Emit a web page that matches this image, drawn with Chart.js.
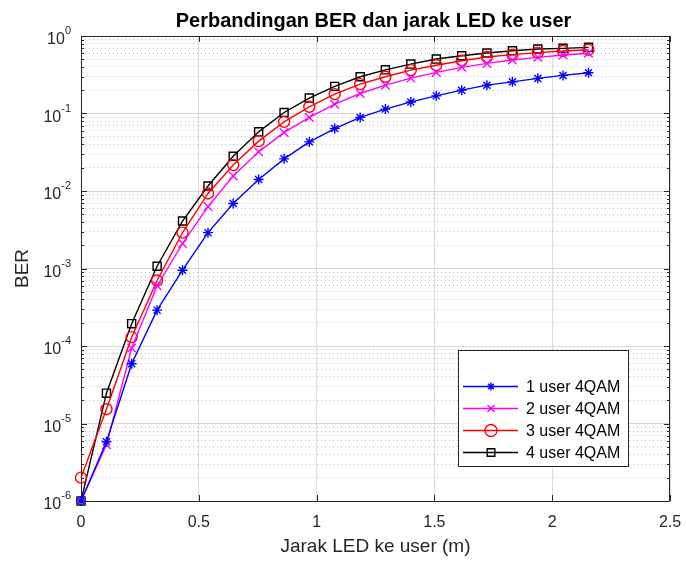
<!DOCTYPE html>
<html>
<head>
<meta charset="utf-8">
<title>Perbandingan BER dan jarak LED ke user</title>
<script src="https://cdn.jsdelivr.net/npm/chart.js@4.4.0/dist/chart.umd.min.js"></script>
<style>
    html, body { margin: 0; padding: 0; background: #ffffff; }
    #wrap { width: 686px; height: 562px; }
</style>
</head>
<body>
<div id="wrap"><canvas id="berChart" width="686" height="562"></canvas></div>
<script>
// Jarak LED ke user (m)
const jarak = [0, 0.108, 0.215, 0.323, 0.431, 0.539, 0.646, 0.754, 0.862, 0.969, 1.077,
               1.185, 1.292, 1.400, 1.508, 1.616, 1.723, 1.831, 1.939, 2.046, 2.154];

// BER per skenario
const ber1user = [1e-6, 5.8e-6, 5.9e-5, 2.9e-4, 9.5e-4, 2.9e-3, 6.9e-3, 1.41e-2, 2.6e-2, 4.3e-2, 6.4e-2,
                  8.9e-2, 0.114, 0.141, 0.169, 0.200, 0.232, 0.256, 0.284, 0.310, 0.335];
const ber2user = [1e-6, 5.3e-6, 9.4e-5, 6.0e-4, 2.1e-3, 6.3e-3, 1.56e-2, 3.2e-2, 5.7e-2, 8.9e-2, 0.132,
                  0.181, 0.232, 0.286, 0.339, 0.394, 0.443, 0.490, 0.530, 0.568, 0.600];
const ber3user = [2.0e-6, 1.53e-5, 1.3e-4, 7.0e-4, 2.9e-3, 9.3e-3, 2.16e-2, 4.4e-2, 7.8e-2, 0.122, 0.178,
                  0.239, 0.298, 0.363, 0.420, 0.480, 0.535, 0.575, 0.610, 0.640, 0.665];
const ber4user = [1e-6, 2.46e-5, 1.94e-4, 1.07e-3, 4.1e-3, 1.16e-2, 2.8e-2, 5.8e-2, 0.103, 0.158, 0.224,
                  0.298, 0.366, 0.434, 0.504, 0.556, 0.603, 0.645, 0.679, 0.693, 0.714];

const seriesLabels = ['1 user 4QAM', '2 user 4QAM', '3 user 4QAM', '4 user 4QAM'];

// Tick labels
const xTickValues = [0, 0.5, 1, 1.5, 2, 2.5];
const xTickLabels = ['0', '0.5', '1', '1.5', '2', '2.5'];
const yTickExponents = [0, -1, -2, -3, -4, -5, -6];

const FONT = '"Liberation Sans", Arial, Helvetica, sans-serif';
const AXIS_COLOR = '#262626';

// minor grid values for the log axis (1..9 x each decade)
const yGridValues = [];
for (let e = -6; e < 0; e++) {
    for (let m = 1; m <= 9; m++) yGridValues.push(m * Math.pow(10, e));
}
yGridValues.push(1);

function isDecade(v) {
    const l = Math.log10(v);
    return Math.abs(l - Math.round(l)) < 1e-9;
}

function toPoints(ys) {
    return jarak.map((x, i) => ({ x: x, y: ys[i] }));
}

const seriesStyles = [
    { color: '#0000ff', pointStyle: 'star', radius: 5, legendRadius: 4 },
    { color: '#ff00ff', pointStyle: 'crossRot', radius: 6, legendRadius: 5 },
    { color: '#ff0000', pointStyle: 'circle', radius: 5.5, legendRadius: 6 },
    { color: '#000000', pointStyle: 'rect', radius: 5.7, legendRadius: 5.4 }
];

const allSeries = [ber1user, ber2user, ber3user, ber4user];

const datasets = allSeries.map((ys, i) => ({
    label: seriesLabels[i],
    data: toPoints(ys),
    borderColor: seriesStyles[i].color,
    backgroundColor: 'rgba(0,0,0,0)',
    borderWidth: 1.4,
    pointStyle: seriesStyles[i].pointStyle,
    pointRadius: seriesStyles[i].radius,
    pointBorderWidth: 1.4,
    pointBorderColor: seriesStyles[i].color,
    pointBackgroundColor: 'rgba(0,0,0,0)',
    tension: 0,
    fill: false,
    clip: false
}));

// Box, tick marks, texts and legend in MATLAB look
const matlabAxes = {
    id: 'matlabAxes',
    beforeDatasetsDraw(chart) {
        const { ctx, chartArea: a, scales } = chart;
        ctx.save();
        ctx.strokeStyle = AXIS_COLOR;
        ctx.lineWidth = 1;
        ctx.strokeRect(a.left + 0.5, a.top + 0.5, a.right - a.left - 1, a.bottom - a.top);

        ctx.beginPath();
        xTickValues.forEach(v => {
            const px = Math.round(scales.x.getPixelForValue(v)) + 0.5;
            ctx.moveTo(px, a.bottom); ctx.lineTo(px, a.bottom - 6);
            ctx.moveTo(px, a.top); ctx.lineTo(px, a.top + 6);
        });
        yGridValues.forEach(v => {
            const py = Math.round(scales.y.getPixelForValue(v)) + 0.5;
            const len = isDecade(v) ? 6 : 3;
            ctx.moveTo(a.left, py); ctx.lineTo(a.left + len, py);
            ctx.moveTo(a.right, py); ctx.lineTo(a.right - len, py);
        });
        ctx.stroke();
        ctx.restore();
    },
    afterDraw(chart) {
        const { ctx, chartArea: a, scales } = chart;
        ctx.save();

        // title
        ctx.fillStyle = '#000000';
        ctx.font = 'bold 20px ' + FONT;
        ctx.textAlign = 'center';
        ctx.textBaseline = 'alphabetic';
        ctx.fillText('Perbandingan BER dan jarak LED ke user', (a.left + a.right) / 2 - 2, 27);

        // x tick labels
        ctx.fillStyle = AXIS_COLOR;
        ctx.font = '16px ' + FONT;
        xTickValues.forEach((v, i) => {
            ctx.fillText(xTickLabels[i], scales.x.getPixelForValue(v), a.bottom + 26);
        });

        // y tick labels 10^n
        yTickExponents.forEach(e => {
            const py = scales.y.getPixelForValue(Math.pow(10, e));
            const expText = String(e);
            ctx.font = '16px ' + FONT;
            const wBase = ctx.measureText('10').width;
            ctx.font = '11px ' + FONT;
            const wExp = ctx.measureText(expText).width;
            const right = a.left - 10;
            ctx.textAlign = 'left';
            ctx.font = '16px ' + FONT;
            ctx.fillText('10', right - wExp - wBase, py + 8);
            ctx.font = '11px ' + FONT;
            ctx.fillText(expText, right - wExp, py - 2);
        });

        // axis labels
        ctx.font = '19px ' + FONT;
        ctx.textAlign = 'center';
        ctx.fillText('Jarak LED ke user (m)', (a.left + a.right) / 2, 552);
        ctx.save();
        ctx.translate(23, (a.top + a.bottom) / 2);
        ctx.rotate(-Math.PI / 2);
        ctx.textBaseline = 'middle';
        ctx.fillText('BER', 0, 0);
        ctx.restore();

        // legend box
        const lx = 458, ly = 350, lw = 170, lh = 116;
        ctx.fillStyle = '#ffffff';
        ctx.fillRect(lx, ly, lw, lh);
        ctx.strokeStyle = '#262626';
        ctx.lineWidth = 1;
        ctx.strokeRect(lx + 0.5, ly + 0.5, lw, lh);
        const rowY = [386.5, 408.5, 430.5, 452.5];
        chart.data.datasets.forEach((ds, i) => {
            const y = rowY[i];
            ctx.strokeStyle = ds.borderColor;
            ctx.lineWidth = 1.4;
            ctx.beginPath();
            ctx.moveTo(463, y); ctx.lineTo(518, y);
            ctx.stroke();
            ctx.fillStyle = 'rgba(0,0,0,0)';
            Chart.helpers.drawPoint(ctx, {
                pointStyle: ds.pointStyle,
                radius: seriesStyles[i].legendRadius,
                rotation: 0,
                borderWidth: 1.4
            }, 491, y);
            ctx.fillStyle = '#000000';
            ctx.font = '16px ' + FONT;
            ctx.textAlign = 'left';
            ctx.textBaseline = 'middle';
            ctx.fillText(seriesLabels[i], 526, y + 1);
        });
        ctx.restore();
    }
};

const berCanvas = document.getElementById('berChart');
new Chart(berCanvas.getContext('2d'), {
    type: 'line',
    data: { datasets: datasets },
    options: {
        responsive: false,
        animation: false,
        devicePixelRatio: 1,
        layout: { padding: { left: 81, right: 16, top: 36, bottom: 61 } },
        plugins: {
            legend: { display: false },
            title: { display: false },
            tooltip: { enabled: false }
        },
        scales: {
            x: {
                type: 'linear',
                min: 0,
                max: 2.5,
                ticks: { display: false },
                afterBuildTicks: s => { s.ticks = xTickValues.map(v => ({ value: v })); },
                afterFit: s => { s.height = 0; },
                grid: { color: '#dcdcdc', lineWidth: 1, drawTicks: false },
                border: { display: false }
            },
            y: {
                type: 'logarithmic',
                min: 1e-6,
                max: 1,
                ticks: { display: false },
                afterBuildTicks: s => { s.ticks = yGridValues.map(v => ({ value: v })); },
                afterFit: s => { s.width = 0; },
                grid: {
                    drawTicks: false,
                    lineWidth: 1,
                    color: c => (c.tick && isDecade(c.tick.value)) ? '#d6d6d6' : '#bdbdbd'
                },
                border: {
                    display: false,
                    dash: c => (c.tick && !isDecade(c.tick.value)) ? [1, 3] : []
                }
            }
        }
    },
    plugins: [matlabAxes]
});
</script>
</body>
</html>
